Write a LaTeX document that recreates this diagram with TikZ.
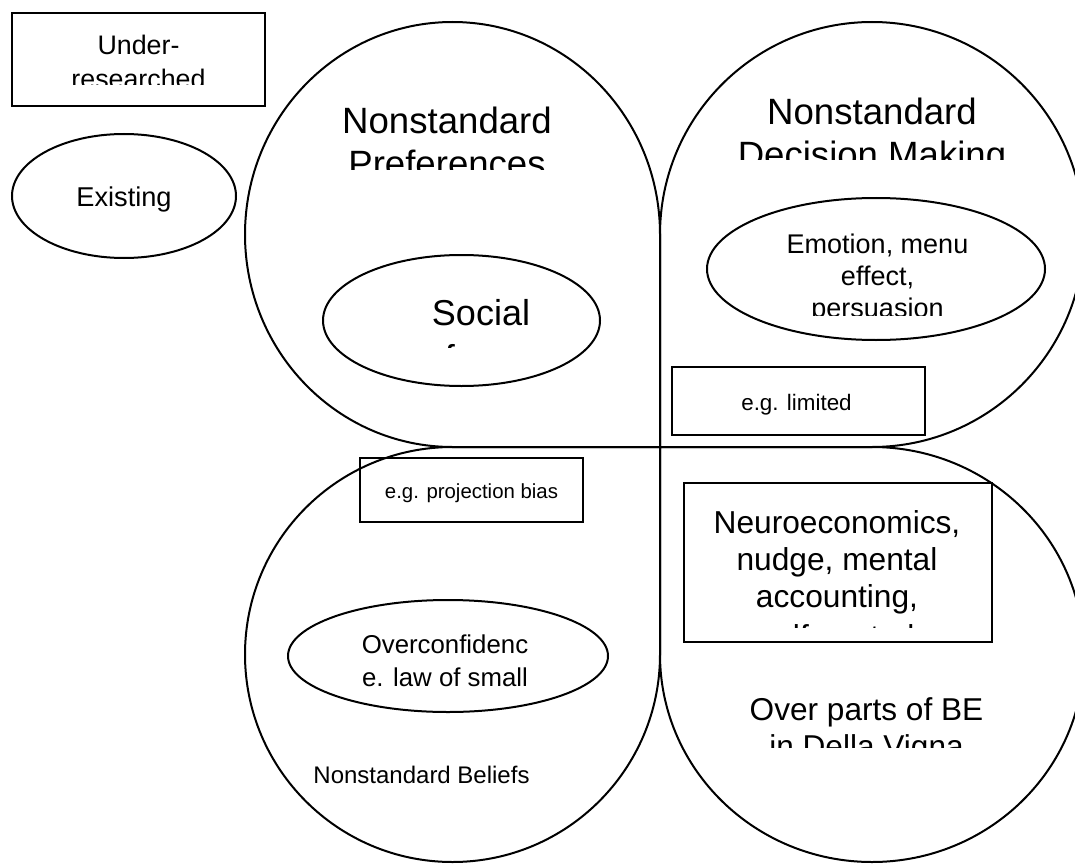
\documentclass[tikz,border=0pt]{standalone}
\usepackage{fontspec}
\setmainfont{Liberation Sans}
\usetikzlibrary{shapes.geometric}

\newcommand{\fsz}[1]{\fontsize{#1}{1.15\dimexpr#1pt\relax}\selectfont}

\begin{document}
\begin{tikzpicture}[x=0.5pt, y=0.5pt,
    lobe/.style={draw, line width=1pt},
    box/.style={draw, rectangle, line width=1pt, inner sep=0pt},
    oval/.style={draw, ellipse, line width=1pt, inner sep=0pt},
    txt/.style={anchor=base, inner sep=0pt}
  ]
  \clip (0,0) rectangle (1075,864);
  \fill[white] (0,0) rectangle (1075,864);

  % legend
  \node[box, minimum width=126.5pt, minimum height=46.5pt] (under) at (138.5,804.5) {};
  \begin{scope}
    \clip (12,779) rectangle (265,851);
    \node[txt, font=\fsz{13.4}] (under1) at (138.5,809) {Under-};
    \node[txt, font=\fsz{13.4}] (under2) at (138.5,775) {researched};
  \end{scope}
  \node[oval, minimum width=112pt, minimum height=62pt] (exist) at (124,668) {};
  \node[txt, font=\fsz{13.6}] (exist1) at (124,658) {Existing};

  % four lobes
  \draw[lobe] (660,417) -- (452.5,417)
    arc[start angle=270, end angle=0, x radius=207.5, y radius=212.5] -- cycle;
  \draw[lobe] (660,417) -- (660,629.5)
    arc[start angle=180, end angle=-90, x radius=212, y radius=212.5] -- cycle;
  \draw[lobe] (660,417) -- (660,209.5)
    arc[start angle=0, end angle=-270, x radius=207.5, y radius=207.5] -- cycle;
  \draw[lobe] (660,417) -- (872,417)
    arc[start angle=90, end angle=-180, x radius=212, y radius=207.5] -- cycle;

  % lobe titles
  \begin{scope}
    \clip (260,694) rectangle (640,800);
    \node[txt, font=\fsz{18.3}] (pref1) at (447,730) {Nonstandard};
    \node[txt, font=\fsz{18.3}] (pref2) at (447,688) {Preferences};
  \end{scope}
  \begin{scope}
    \clip (680,704) rectangle (1075,800);
    \node[txt, font=\fsz{18.3}] (dec1) at (872,739) {Nonstandard};
    \node[txt, font=\fsz{18.3}] (dec2) at (872,697) {Decision Making};
  \end{scope}
  \node[txt, font=\fsz{12}] (beliefs) at (421.5,81) {Nonstandard Beliefs};
  \begin{scope}
    \clip (690,117) rectangle (1050,180);
    \node[txt, font=\fsz{15.8}] (over1) at (866.5,144) {Over parts of BE};
    \node[txt, font=\fsz{15.8}] (over2) at (866.5,107) {in Della Vigna};
  \end{scope}

  % inner items
  \node[oval, minimum width=138.5pt, minimum height=65.5pt] (social) at (461.5,543.5) {};
  \begin{scope}
    \clip (330,517) rectangle (595,580);
    \node[txt, font=\fsz{18}] (social1) at (481,539) {Social};
    \node[txt, font=\fsz{18}] (social2) at (488,494) {preferences};
  \end{scope}

  \node[oval, minimum width=169pt, minimum height=71pt] (emotion) at (876,595) {};
  \begin{scope}
    \clip (715,549) rectangle (1040,660);
    \node[txt, font=\fsz{13.5}] (emo1) at (877.5,611) {Emotion, menu};
    \node[txt, font=\fsz{13.5}] (emo2) at (877.5,579) {effect,};
    \node[txt, font=\fsz{13.5}] (emo3) at (877.5,547) {persuasion};
  \end{scope}

  \node[box, minimum width=126.5pt, minimum height=34pt] (limited) at (798.5,463) {};
  \node[txt, font=\fsz{11.2}] (limited1) at (796.5,454) {e.g. limited};

  \node[box, minimum width=111.5pt, minimum height=32pt] (proj) at (471.5,374) {};
  \node[txt, font=\fsz{10.2}] (proj1) at (471.5,366) {e.g. projection bias};

  \node[box, minimum width=154pt, minimum height=79.5pt] (neuro) at (838,301.5) {};
  \begin{scope}
    \clip (690,237) rectangle (986,378);
    \node[txt, font=\fsz{15.85}] (neuro1) at (837,331) {Neuroeconomics,};
    \node[txt, font=\fsz{15.85}] (neuro2) at (837,294) {nudge, mental};
    \node[txt, font=\fsz{15.85}] (neuro3) at (837,257) {accounting,};
    \node[txt, font=\fsz{15.85}] (neuro4) at (837,217) {self-control};
  \end{scope}

  \node[oval, minimum width=160pt, minimum height=56pt] (overconf) at (448,208) {};
  \begin{scope}
    \clip (295,175) rectangle (600,260);
    \node[txt, font=\fsz{12.9}] (conf1) at (445,211) {Overconfidenc};
    \node[txt, font=\fsz{12.9}] (conf2) at (445,178) {e. law of small};
  \end{scope}
\end{tikzpicture}
\end{document}
